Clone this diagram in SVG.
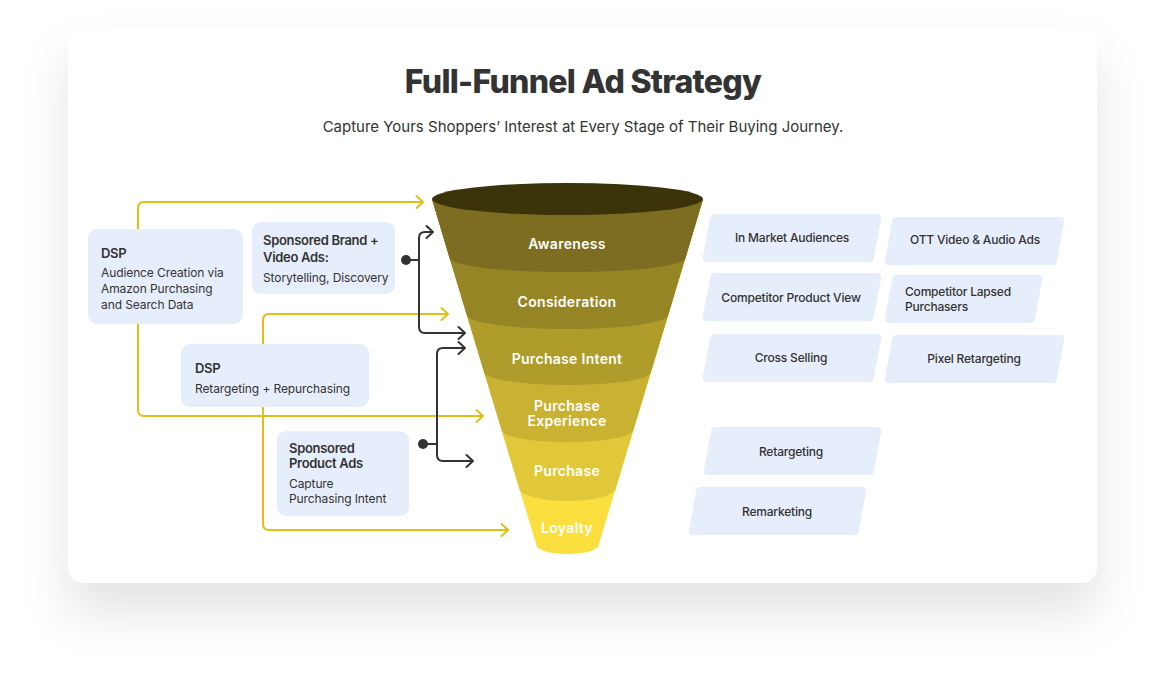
<svg xmlns="http://www.w3.org/2000/svg" width="1166" height="693" viewBox="0 0 1166 693">
<defs>
<filter id="sh" x="-10%" y="-10%" width="120%" height="140%">
<feDropShadow dx="0" dy="30" stdDeviation="24" flood-color="#000" flood-opacity="0.11"/>
</filter>
<marker id="ay" markerUnits="userSpaceOnUse" markerWidth="12" markerHeight="16" refX="8" refY="7" orient="auto" overflow="visible">
<path d="M1.5,1 L8,7 L1.5,13" fill="none" stroke="#dfc01a" stroke-width="2" stroke-linecap="round" stroke-linejoin="round"/>
</marker>
<marker id="ad" markerUnits="userSpaceOnUse" markerWidth="12" markerHeight="16" refX="8" refY="7" orient="auto" overflow="visible">
<path d="M1.5,1 L8,7 L1.5,13" fill="none" stroke="#333" stroke-width="2" stroke-linecap="round" stroke-linejoin="round"/>
</marker>
<style>
.t{font-family:Inter,"Liberation Sans",sans-serif;fill:#333}
.box{fill:#e7eefb}
.tag{fill:#e7eefb;stroke:#e7eefb;stroke-width:8;stroke-linejoin:round}
.h{font-size:13px;font-weight:600;letter-spacing:-0.3px}
.b{font-size:12px;font-weight:400;letter-spacing:-0.1px}
.tg{font-size:12px;font-weight:500;letter-spacing:-0.2px}
.fl{font-family:Inter,"Liberation Sans",sans-serif;fill:#fff;font-size:14px;font-weight:600;letter-spacing:0.3px;text-anchor:middle}
.cy{fill:none;stroke:#dfc01a;stroke-width:2;stroke-linejoin:round}
.cd{fill:none;stroke:#333;stroke-width:2;stroke-linejoin:round}
</style>
</defs>
<rect width="1166" height="693" fill="#fff"/>
<rect x="68" y="27" width="1029" height="556" rx="16" fill="#fff" filter="url(#sh)"/>

<g id="title">
<text class="t" x="583" y="93" text-anchor="middle" font-size="32" font-weight="800" letter-spacing="-0.7">Full-Funnel Ad Strategy</text>
<text class="t" x="583" y="132" text-anchor="middle" font-size="15" letter-spacing="0">Capture Yours Shoppers’ Interest at Every Stage of Their Buying Journey.</text>
</g>

<g id="funnel">
<path d="M432,199 L536.4,545 A31,9 0 0 0 598.6,545 L703,199 Z" fill="#fadf3e"/>
<path d="M432,199 L519.1,488 A48.4,13 0 0 0 615.9,488 L703,199 Z" fill="#e1c838"/>
<path d="M432,199 L501.6,430 A66,13 0 0 0 633.4,430 L703,199 Z" fill="#c9b131"/>
<path d="M432,199 L484,372 A83.5,13 0 0 0 651,372 L703,199 Z" fill="#b09c2b"/>
<path d="M432,199 L466.8,315 A100.7,14 0 0 0 668.2,315 L703,199 Z" fill="#968524"/>
<path d="M432,199 L449.5,258 A118,14 0 0 0 685.5,258 L703,199 Z" fill="#7c6d20"/>
<ellipse cx="567.5" cy="199" rx="135.5" ry="16" fill="#3b3309"/>
<text class="fl" x="567" y="249">Awareness</text>
<text class="fl" x="567" y="307">Consideration</text>
<text class="fl" x="567" y="364">Purchase Intent</text>
<text class="fl" x="567" y="411">Purchase</text>
<text class="fl" x="567" y="426">Experience</text>
<text class="fl" x="567" y="476">Purchase</text>
<text class="fl" x="567" y="533">Loyalty</text>
</g>

<g id="connectors">
<path class="cy" d="M138,229 V208 Q138,202 144,202 H423" marker-end="url(#ay)"/>
<path class="cy" d="M138,324 V410 Q138,416 144,416 H483" marker-end="url(#ay)"/>
<path class="cy" d="M263,344 V320 Q263,314 269,314 H448" marker-end="url(#ay)"/>
<path class="cy" d="M263,407 V524 Q263,530 269,530 H508" marker-end="url(#ay)"/>
<circle cx="406" cy="260" r="5" fill="#333"/>
<path class="cd" d="M406,260 H419"/>
<path class="cd" d="M419,260 V238 Q419,232 425,232 H433" marker-end="url(#ad)"/>
<path class="cd" d="M419,260 V327 Q419,333 425,333 H465" marker-end="url(#ad)"/>
<circle cx="423" cy="444" r="5" fill="#333"/>
<path class="cd" d="M423,444 H437"/>
<path class="cd" d="M437,444 V354 Q437,348 443,348 H465" marker-end="url(#ad)"/>
<path class="cd" d="M437,444 V455 Q437,461 443,461 H473" marker-end="url(#ad)"/>
</g>

<g id="dsp-audience">
<rect class="box" x="88" y="229" width="155" height="95" rx="9"/>
<text class="t h" x="101" y="258">DSP</text>
<text class="t b" x="101" y="277">Audience Creation via</text>
<text class="t b" x="101" y="293">Amazon Purchasing</text>
<text class="t b" x="101" y="309">and Search Data</text>
</g>
<g id="sponsored-brand">
<rect class="box" x="252" y="222" width="143" height="72" rx="9"/>
<text class="t h" x="263" y="245">Sponsored Brand +</text>
<text class="t h" x="263" y="262">Video Ads:</text>
<text class="t b" x="263" y="282">Storytelling, Discovery</text>
</g>
<g id="dsp-retargeting">
<rect class="box" x="181" y="344" width="188" height="63" rx="9"/>
<text class="t h" x="195" y="373">DSP</text>
<text class="t b" x="195" y="393">Retargeting + Repurchasing</text>
</g>
<g id="sponsored-product">
<rect class="box" x="277" y="431" width="132" height="85" rx="9"/>
<text class="t h" x="289" y="453">Sponsored</text>
<text class="t h" x="289" y="468">Product Ads</text>
<text class="t b" x="289" y="488">Capture</text>
<text class="t b" x="289" y="503">Purchasing Intent</text>
</g>

<g id="tag-in-market">
<polygon class="tag" points="714.25,218 877.25,218 869.75,258 706.75,258"/>
<text class="t tg" x="792" y="242" text-anchor="middle">In Market Audiences</text>
</g>
<g id="tag-ott">
<polygon class="tag" points="896.25,221 1060.25,221 1052.75,261 888.75,261"/>
<text class="t tg" x="975" y="244" text-anchor="middle">OTT Video &amp; Audio Ads</text>
</g>
<g id="tag-competitor-view">
<polygon class="tag" points="714.25,277 877.25,277 869.75,317 706.75,317"/>
<text class="t tg" x="791" y="302" text-anchor="middle">Competitor Product View</text>
</g>
<g id="tag-competitor-lapsed">
<polygon class="tag" points="896.25,279 1038.25,279 1030.75,319 888.75,319"/>
<text class="t tg" x="905" y="296">Competitor Lapsed</text>
<text class="t tg" x="905" y="311">Purchasers</text>
</g>
<g id="tag-cross-selling">
<polygon class="tag" points="714.25,338 877.25,338 869.75,378 706.75,378"/>
<text class="t tg" x="791" y="362" text-anchor="middle">Cross Selling</text>
</g>
<g id="tag-pixel">
<polygon class="tag" points="896.25,339 1060.25,339 1052.75,379 888.75,379"/>
<text class="t tg" x="974" y="363" text-anchor="middle">Pixel Retargeting</text>
</g>
<g id="tag-retargeting">
<polygon class="tag" points="715.25,431 877.25,431 869.75,471 707.75,471"/>
<text class="t tg" x="791" y="456" text-anchor="middle">Retargeting</text>
</g>
<g id="tag-remarketing">
<polygon class="tag" points="700.25,491 862.25,491 854.75,531 692.75,531"/>
<text class="t tg" x="777" y="516" text-anchor="middle">Remarketing</text>
</g>
</svg>
